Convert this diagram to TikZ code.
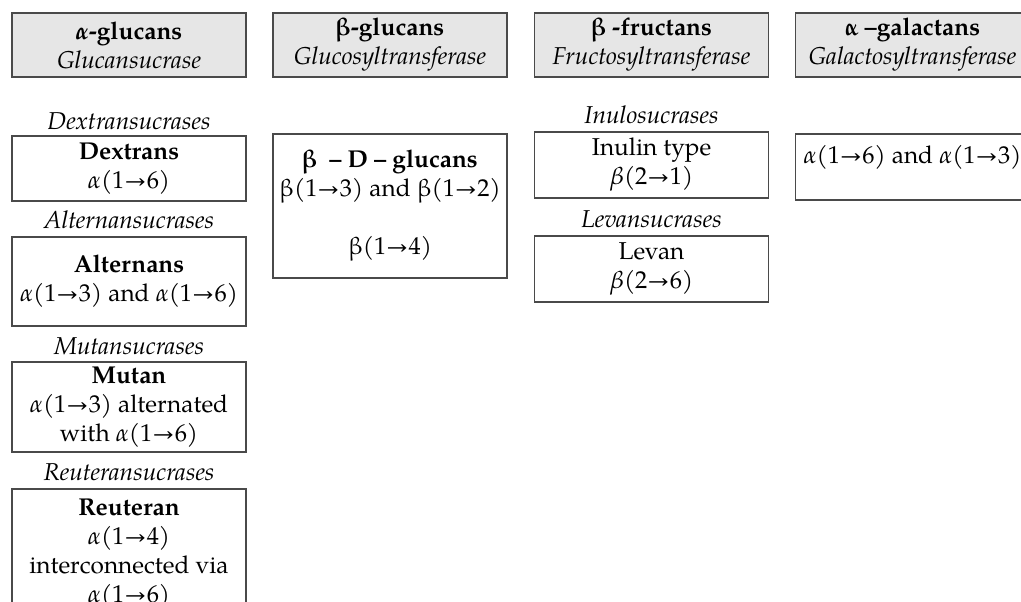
\documentclass[tikz,border=0pt]{standalone}
\usepackage{fontspec}
\setmainfont{TeX Gyre Pagella}
\usepackage{tikz}
\definecolor{boxline}{HTML}{4A4A4A}
\definecolor{headfill}{HTML}{E6E6E6}
\newcommand{\bond}{→}
\newcommand{\alp}{\textit{α}}
\tikzstyle{cell} = [draw=boxline,line width=0.7pt,align=center,minimum width=117pt,inner sep=0pt,font=\fontsize{12.2}{14.5}\selectfont]
\tikzstyle{head} = [cell,fill=headfill,minimum height=32pt]
\tikzstyle{sub} = [anchor=base,inner sep=0pt,font=\fontsize{12.2}{14.5}\selectfont\itshape]

\begin{document}
\begin{tikzpicture}[x=0.5pt,y=-0.5pt]
    \clip (0,0) rectangle (1021,601);

    \node[head] (aglu) at (129,45) {\textbf{\alp-glucans}\\\textit{Glucansucrase}};
    \node[head] (bglu) at (390,45) {\textbf{β-glucans}\\\textit{Glucosyltransferase}};
    \node[head] (bfru) at (651.5,45) {\textbf{β -fructans}\\\textit{Fructosyltransferase}};
    \node[head] (agal) at (912.5,45) {\textbf{α –galactans}\\\textit{Galactosyltransferase}};

    \node[sub] (dexsub) at (129,129) {Dextransucrases};
    \node[sub] (altsub) at (129,228) {Alternansucrases};
    \node[sub] (mutsub) at (129,354) {Mutansucrases};
    \node[sub] (reusub) at (129,480) {Reuteransucrases};

    \node[cell,minimum height=32.5pt] (dextran) at (129,168.5) {\textbf{Dextrans}\\\alp(1\bond6)};
    \node[cell,minimum height=44.5pt] (alternan) at (129,281.5) {\textbf{Alternans}\\\alp(1\bond3) and \alp(1\bond6)};
    \node[cell,minimum height=45pt] (mutan) at (129,407) {\textbf{Mutan}\\\alp(1\bond3) alternated\\with \alp(1\bond6)};
    \node[cell,minimum height=64.5pt] (reuteran) at (129,553.5) {\textbf{Reuteran}\\\alp(1\bond4)\\interconnected via\\\alp(1\bond6)};

    \node[cell,minimum height=72pt] (bdglu) at (390,206) {\textbf{β\ \ – D – glucans}\\β(1\bond3) and β(1\bond2)\\~\\β(1\bond4)};

    \node[sub] (inusub) at (651.5,123) {Inulosucrases};
    \node[sub] (levsub) at (651.5,227) {Levansucrases};

    \node[cell,minimum height=33pt] (inulin) at (651.5,165) {Inulin type\\\textit{β}(2\bond1)};
    \node[cell,minimum height=33pt] (levan) at (651.5,269) {Levan\\\textit{β}(2\bond6)};

    \node[cell,text height=14.5pt,text depth=18.5pt] (galact) at (912.5,167) {\alp(1\bond6) and \alp(1\bond3)};

\end{tikzpicture}
\end{document}
